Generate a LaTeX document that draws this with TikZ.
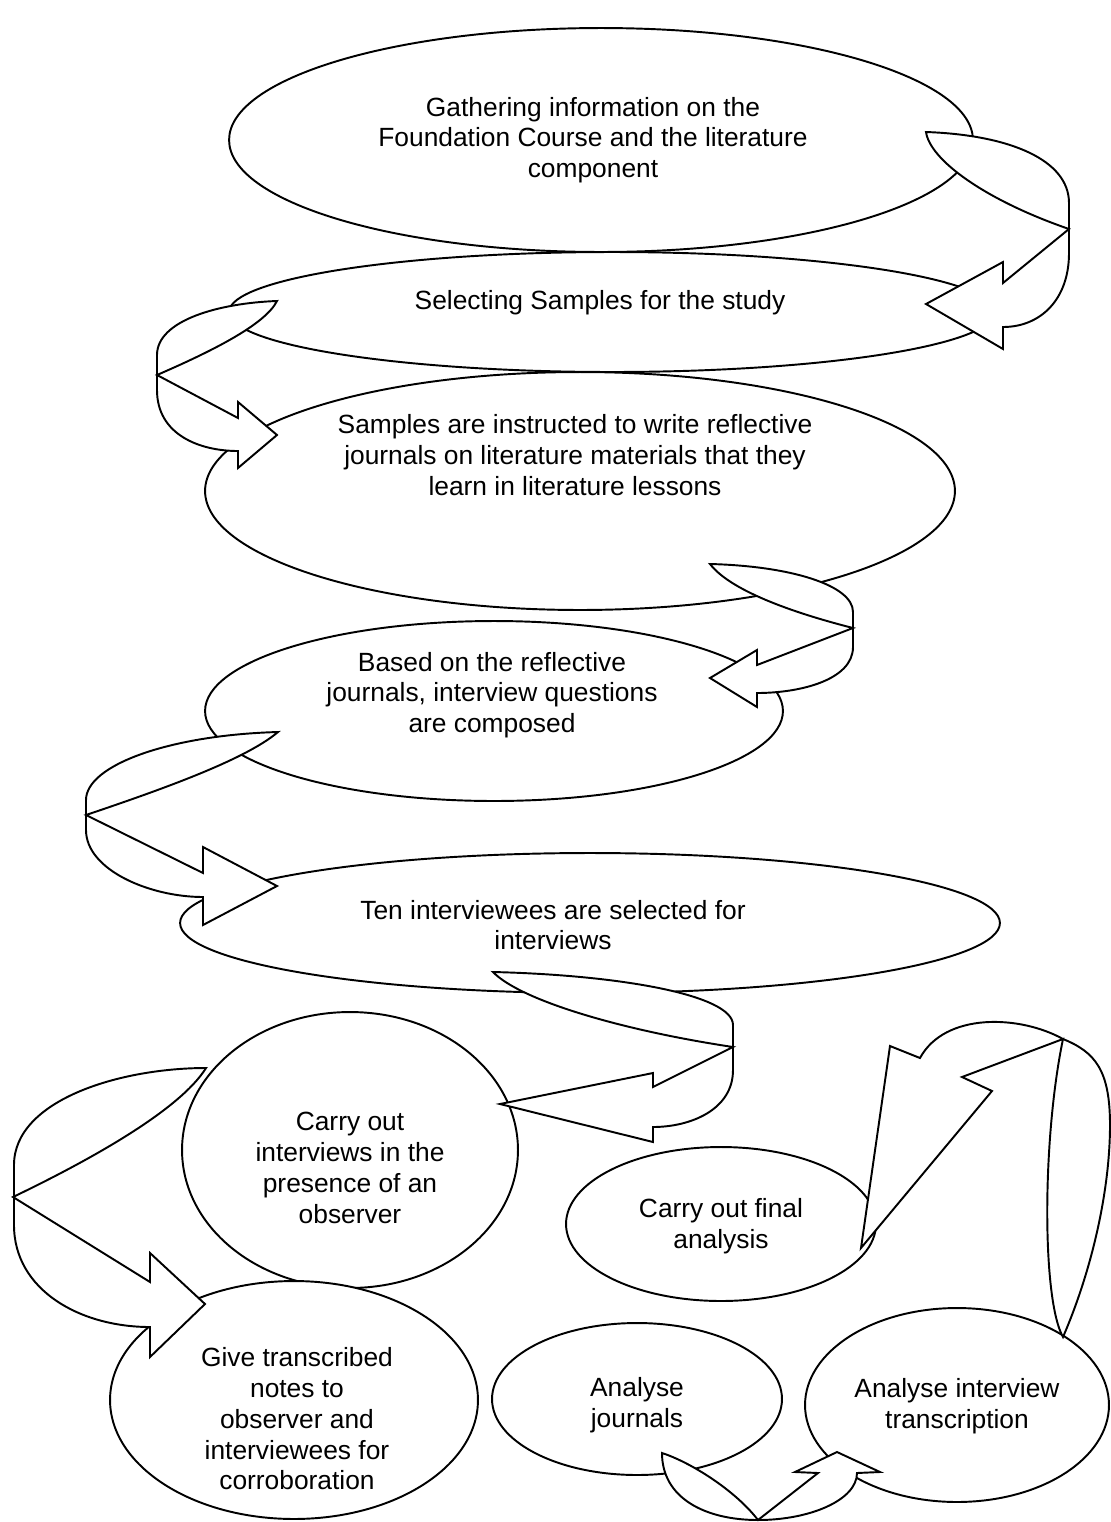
\documentclass[tikz,border=0pt]{standalone}
\usepackage{fontspec}
\setmainfont{Liberation Sans}
\usepackage{tikz}
\usetikzlibrary{shapes.geometric}
\tikzstyle{stage_e} = [ellipse, draw=black, fill=white, line width=1.1pt, inner sep=0pt, outer sep=0pt]
\tikzstyle{stage_t} = [align=center, inner sep=0pt, font=\fontsize{15}{17.5}\selectfont]
\tikzstyle{bend_a} = [draw=black, fill=white, line width=1.1pt, line join=miter]

\begin{document}
\begin{tikzpicture}[x=0.02cm, y=-0.02cm]
\useasboundingbox (0,0) rectangle (1110,1522);
% stages
\node [stage_e, minimum width=14.88cm, minimum height=4.48cm] (e1) at (601,140) {};
\node [stage_e, minimum width=15.32cm, minimum height=2.4cm] (e2) at (612,312) {};
\node [stage_e, minimum width=15cm, minimum height=4.76cm] (e3) at (580,491) {};
\node [stage_e, minimum width=11.56cm, minimum height=3.6cm] (e4) at (494,711) {};
\node [stage_e, minimum width=16.4cm, minimum height=2.8cm] (e5) at (590,923) {};
\node [stage_e, minimum width=6.72cm, minimum height=5.52cm] (e6) at (350,1150) {};
\node [stage_e, minimum width=6.2cm, minimum height=3.08cm] (e7) at (721,1224) {};
\node [stage_e, minimum width=7.36cm, minimum height=4.76cm] (e8) at (294,1400) {};
\node [stage_e, minimum width=5.8cm, minimum height=3.04cm] (e9) at (637,1399) {};
\node [stage_e, minimum width=6.08cm, minimum height=3.88cm] (e10) at (957,1405) {};
% texts
\node [stage_t] (t1) at (593,140) {Gathering information on the\\Foundation Course and the literature\\component};
\node [stage_t] (t2) at (600,303) {Selecting Samples for the study};
\node [stage_t] (t3) at (575,455) {Samples are instructed to write reflective\\journals on literature materials that they\\learn in literature lessons};
\node [stage_t] (t4) at (492,695) {Based on the reflective\\journals, interview questions\\are composed};
\node [stage_t] (t5) at (553,925) {Ten interviewees are selected for\\interviews};
\node [stage_t] (t6) at (350,1168) {Carry out\\interviews in the\\presence of an\\observer};
\node [stage_t] (t7) at (721,1226) {Carry out final\\analysis};
\node [stage_t] (t8) at (297,1419) {Give transcribed\\notes to\\observer and\\interviewees for\\corroboration};
\node [stage_t] (t9) at (637,1405) {Analyse\\journals};
\node [stage_t] (t10) at (957,1406) {Analyse interview\\transcription};
% curved arrows
% e1 to e2
\draw [bend_a] (926,132) .. controls (1010,135) and (1069,160) .. (1069,203) -- (1069,253)
  .. controls (1069,300) and (1040,327) .. (1003,327) -- (1003,349) -- (926,304) -- (1003,262)
  -- (1003,283) -- (1069,229) .. controls (985,200) and (930,160) .. cycle;
% e2 to e3
\draw [bend_a] (277,301) .. controls (220,303) and (157,320) .. (157,355) -- (157,390)
  .. controls (157,435) and (200,451) .. (238,451) -- (238,468) -- (277,435) -- (238,402)
  -- (238,418) -- (157,375) .. controls (210,352) and (265,325) .. cycle;
% e3 to e4
\draw [bend_a] (710,564) .. controls (790,566) and (853,585) .. (853,612) -- (853,647)
  .. controls (853,680) and (800,693) .. (757,693) -- (757,707) -- (710,678) -- (757,650)
  -- (757,665) -- (853,628) .. controls (790,612) and (730,590) .. cycle;
% e4 to e5
\draw [bend_a] (278,732) .. controls (170,735) and (86,765) .. (86,800) -- (86,830)
  .. controls (86,870) and (150,897) .. (203,897) -- (203,925) -- (277,886) -- (203,847)
  -- (203,873) -- (86,815) .. controls (160,790) and (245,760) .. cycle;
% e5 to e6
\draw [bend_a] (493,972) .. controls (620,975) and (733,995) .. (733,1025) -- (733,1070)
  .. controls (733,1110) and (690,1127) .. (653,1127) -- (653,1142) -- (500,1104) -- (653,1073)
  -- (653,1087) -- (733,1047) .. controls (620,1030) and (520,1000) .. cycle;
% e6 to e8
\draw [bend_a] (206,1068) .. controls (120,1068) and (14,1100) .. (14,1165) -- (14,1225)
  .. controls (14,1290) and (80,1327) .. (150,1327) -- (150,1357) -- (205,1304) -- (150,1253)
  -- (150,1282) -- (13,1197) .. controls (90,1160) and (180,1110) .. cycle;
% e9 to e10
\draw [bend_a] (662,1453) .. controls (662,1498) and (705,1520) .. (758,1520)
  .. controls (810,1520) and (857,1500) .. (857,1473) -- (880,1472) -- (837,1452) -- (795,1472)
  -- (818,1473) -- (758,1520) .. controls (735,1490) and (690,1462) .. cycle;
% e10 to e7
\draw [bend_a] (1063,1337) .. controls (1092,1270) and (1110,1190) .. (1110,1125)
  .. controls (1110,1070) and (1095,1052) .. (1063,1039) .. controls (1020,1015) and (945,1012) .. (920,1058)
  -- (890,1046) -- (861,1248) -- (992,1091) -- (962,1077) -- (1063,1039)
  .. controls (1042,1140) and (1042,1300) .. cycle;
\end{tikzpicture}
\end{document}
